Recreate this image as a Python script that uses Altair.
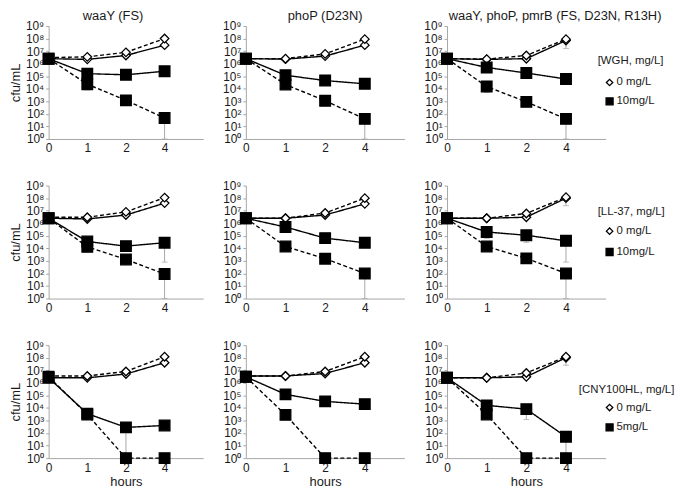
import altair as alt
import pandas as pd

# ---------------- data ----------------
HOURS = ["0", "1", "2", "4"]
X_DOMAIN = ["0", "1", "2", "4", "5"]   # last slot is an empty category

PANEL_TITLES = ["waaY (FS)", "phoP (D23N)", "waaY, phoP, pmrB (FS, D23N, R13H)"]
LEGEND_TITLES = ["[WGH, mg/L]", "[LL-37, mg/L]", "[CNY100HL, mg/L]"]
CONC_LABELS = [["0 mg/L", "10mg/L"], ["0 mg/L", "10mg/L"], ["0 mg/L", "5mg/L"]]

# Row 1 : WGH
wgh_waay_ctrl_solid = [2.5e6, 2.2e6, 4.5e6, 3e7]
wgh_waay_ctrl_dashed = [3e6, 3.5e6, 8e6, 1e8]
wgh_waay_trt_solid = [2.5e6, 1.6e5, 1.3e5, 2.5e5]
wgh_waay_trt_dashed = [2.5e6, 2.3e4, 1.2e3, 4.7e1]
wgh_waay_err = [("trt_dashed", "1", 2.3e4, 8e3), ("trt_dashed", "4", 4.7e1, 1)]

wgh_phop_ctrl_solid = [2.5e6, 2.3e6, 4e6, 3e7]
wgh_phop_ctrl_dashed = [2.5e6, 2.5e6, 6e6, 9e7]
wgh_phop_trt_solid = [2.5e6, 1.2e5, 4.5e4, 2.5e4]
wgh_phop_trt_dashed = [2.5e6, 2.2e4, 1.1e3, 4e1]
wgh_phop_err = [("trt_dashed", "1", 2.2e4, 1e4), ("trt_dashed", "4", 4e1, 1)]

wgh_tri_ctrl_solid = [2.5e6, 2.2e6, 2.5e6, 7e7]
wgh_tri_ctrl_dashed = [2.5e6, 2.3e6, 4.5e6, 9e7]
wgh_tri_trt_solid = [2.5e6, 5e5, 1.8e5, 6e4]
wgh_tri_trt_dashed = [2.5e6, 1.5e4, 9e2, 4e1]
wgh_tri_err = [("ctrl_solid", "4", 7e7, 1.6e7), ("trt_dashed", "1", 1.5e4, 5e3),
               ("trt_dashed", "4", 4e1, 1)]

# Row 2 : LL-37
ll_waay_ctrl_solid = [2.5e6, 2.2e6, 4.5e6, 4e7]
ll_waay_ctrl_dashed = [3e6, 3e6, 8e6, 1.1e8]
ll_waay_trt_solid = [2.5e6, 3.5e4, 1.5e4, 2.8e4]
ll_waay_trt_dashed = [2.5e6, 1.3e4, 1.3e3, 9e1]
ll_waay_err = [("trt_solid", "4", 2.8e4, 8e2), ("trt_dashed", "2", 1.3e3, 5e2),
               ("trt_dashed", "4", 9e1, 1)]

ll_phop_ctrl_solid = [2.5e6, 2.5e6, 4.5e6, 3.5e7]
ll_phop_ctrl_dashed = [2.5e6, 2.5e6, 6.5e6, 1e8]
ll_phop_trt_solid = [2.5e6, 5e5, 6.5e4, 2.8e4]
ll_phop_trt_dashed = [2.5e6, 1.4e4, 1.5e3, 1e2]
ll_phop_err = [("trt_dashed", "4", 1e2, 1)]

ll_tri_ctrl_solid = [2.5e6, 2.5e6, 3e6, 1e8]
ll_tri_ctrl_dashed = [2.5e6, 2.5e6, 6e6, 1.2e8]
ll_tri_trt_solid = [2.5e6, 2e5, 1.1e5, 4e4]
ll_tri_trt_dashed = [2.5e6, 1.4e4, 1.6e3, 1e2]
ll_tri_err = [("ctrl_solid", "4", 1e8, 2.5e7), ("trt_solid", "1", 2e5, 6e4),
              ("trt_solid", "2", 1.1e5, 3e4), ("trt_solid", "4", 4e4, 8e2),
              ("trt_dashed", "4", 1e2, 1)]

# Row 3 : CNY100HL
cny_waay_ctrl_solid = [2.5e6, 2.5e6, 5e6, 4e7]
cny_waay_ctrl_dashed = [3.5e6, 3.5e6, 8e6, 1.2e8]
cny_waay_trt_solid = [2.5e6, 3.5e3, 2.8e2, 4e2]
cny_waay_trt_dashed = [3e6, 3e3, 1, 1]
cny_waay_err = [("trt_solid", "2", 2.8e2, 1), ("trt_solid", "4", 4e2, 2e2)]

cny_phop_ctrl_solid = [3.5e6, 3.5e6, 5.5e6, 4e7]
cny_phop_ctrl_dashed = [3.5e6, 3.5e6, 8e6, 1.2e8]
cny_phop_trt_solid = [3e6, 1.2e5, 3.3e4, 2e4]
cny_phop_trt_dashed = [3e6, 2.8e3, 1, 1]
cny_phop_err = []

cny_tri_ctrl_solid = [2.5e6, 2.5e6, 3e6, 1e8]
cny_tri_ctrl_dashed = [2.5e6, 2.5e6, 6e6, 1.2e8]
cny_tri_trt_solid = [2.5e6, 1.6e4, 8e3, 5e1]
cny_tri_trt_dashed = [2.5e6, 3e3, 1, 1]
cny_tri_err = [("ctrl_solid", "4", 1e8, 2.5e7), ("trt_solid", "2", 8e3, 1.2e3),
               ("trt_solid", "4", 5e1, 1)]

PANELS = [
    [(wgh_waay_ctrl_solid, wgh_waay_ctrl_dashed, wgh_waay_trt_solid, wgh_waay_trt_dashed, wgh_waay_err),
     (wgh_phop_ctrl_solid, wgh_phop_ctrl_dashed, wgh_phop_trt_solid, wgh_phop_trt_dashed, wgh_phop_err),
     (wgh_tri_ctrl_solid, wgh_tri_ctrl_dashed, wgh_tri_trt_solid, wgh_tri_trt_dashed, wgh_tri_err)],
    [(ll_waay_ctrl_solid, ll_waay_ctrl_dashed, ll_waay_trt_solid, ll_waay_trt_dashed, ll_waay_err),
     (ll_phop_ctrl_solid, ll_phop_ctrl_dashed, ll_phop_trt_solid, ll_phop_trt_dashed, ll_phop_err),
     (ll_tri_ctrl_solid, ll_tri_ctrl_dashed, ll_tri_trt_solid, ll_tri_trt_dashed, ll_tri_err)],
    [(cny_waay_ctrl_solid, cny_waay_ctrl_dashed, cny_waay_trt_solid, cny_waay_trt_dashed, cny_waay_err),
     (cny_phop_ctrl_solid, cny_phop_ctrl_dashed, cny_phop_trt_solid, cny_phop_trt_dashed, cny_phop_err),
     (cny_tri_ctrl_solid, cny_tri_ctrl_dashed, cny_tri_trt_solid, cny_tri_trt_dashed, cny_tri_err)],
]

# ---------------- layout / style ----------------
WIDTHS = [156, 160, 160]
HEIGHT = 114
TITLE_DX = [-13, 0, 29]
# legend guide placement (pixels, relative to the third panel's plot area):
# title x, title y, item-1 y, item-2 y
LEGEND_POS = [(152, 35, 57, 76), (152, 27, 46, 67), (133, 45, 63, 83)]
SYM_X, LAB_X = 164, 171
GRAY = "#a6a6a6"
TXT = "#1a1a1a"
SUP = "['\u2070','\u00b9','\u00b2','\u00b3','\u2074','\u2075','\u2076','\u2077','\u2078','\u2079']"
KINDS = ["ctrl", "trt"]
SHAPES = ["diamond", "square"]
FILLS = ["white", "black"]
SIZES = [75, 115]


def legend_layers(r):
    tx, ty, y1, y2 = LEGEND_POS[r]
    c0, c1 = CONC_LABELS[r]
    out = [alt.Chart(pd.DataFrame({"t": [LEGEND_TITLES[r]]})).mark_text(
        align="left", baseline="middle", fontSize=11.5, color=TXT).encode(
        text="t:N", x=alt.value(tx), y=alt.value(ty))]
    for lab, yy, shp, fil, sz in [(c0, y1, "diamond", "white", 42), (c1, y2, "square", "black", 50)]:
        d = pd.DataFrame({"t": [lab]})
        out.append(alt.Chart(d).mark_point(filled=True, stroke="black", strokeWidth=1.3, opacity=1).encode(
            x=alt.value(SYM_X), y=alt.value(yy), shape=alt.value(shp), fill=alt.value(fil), size=alt.value(sz)))
        out.append(alt.Chart(d).mark_text(align="left", baseline="middle", fontSize=11.5, color=TXT).encode(
            text="t:N", x=alt.value(LAB_X), y=alt.value(yy)))
    return out


def panel(r, c):
    cs, cd, ts, td, errs = PANELS[r][c]
    rows = []
    for key, vals, kind, strain in [("ctrl_solid", cs, "ctrl", "solid"), ("ctrl_dashed", cd, "ctrl", "dashed"),
                                    ("trt_solid", ts, "trt", "solid"), ("trt_dashed", td, "trt", "dashed")]:
        for h, v in zip(HOURS, vals):
            rows.append({"hour": h, "value": v, "kind": kind, "strain": strain, "series": key})
    df = pd.DataFrame(rows)
    edf = pd.DataFrame([{"hour": h, "value": v, "lower": lo} for (_, h, v, lo) in errs],
                       columns=["hour", "value", "lower"])

    x_axis = alt.Axis(
        title="hours" if r == 2 else None, labelAngle=0, ticks=False, domainColor=GRAY,
        labelExpr="datum.value == '5' ? '' : datum.value", labelFontSize=12, labelColor=TXT,
        labelPadding=4, grid=False, titleFontSize=13, titleFontWeight="normal", titleColor=TXT,
        titlePadding=3)
    y_axis = alt.Axis(
        title="cfu/mL" if c == 0 else None, values=[10 ** k for k in range(10)],
        labelExpr="'10' + " + SUP + "[round(log(datum.value) / LN10)]",
        tickSize=3, tickColor=GRAY, domainColor=GRAY, labelFontSize=12, labelColor=TXT,
        labelPadding=2, grid=False, minExtent=25, maxExtent=25, titleFontSize=13,
        titleFontWeight="normal", titleColor=TXT, titlePadding=1)
    xs = alt.Scale(type="point", domain=X_DOMAIN, padding=0)
    ys = alt.Scale(type="log", domain=[1, 1e9], nice=False)
    X = alt.X("hour:N", scale=xs, axis=x_axis)

    base = alt.Chart(df)
    rules = alt.Chart(edf).mark_rule(color=GRAY, strokeWidth=1).encode(
        x=X, y=alt.Y("value:Q", scale=ys, axis=y_axis), y2="lower:Q")
    caps = alt.Chart(edf).mark_tick(color=GRAY, size=6, thickness=1).encode(
        x=X, y=alt.Y("lower:Q", scale=ys, axis=y_axis))
    lines = base.mark_line(color="black", strokeWidth=1.4).encode(
        x=X, y=alt.Y("value:Q", scale=ys, axis=y_axis), detail="series:N",
        strokeDash=alt.StrokeDash("strain:N", scale=alt.Scale(domain=["solid", "dashed"],
                                                               range=[[1, 0], [4, 2.5]]), legend=None))
    points = base.mark_point(filled=True, stroke="black", strokeWidth=1.3, opacity=1).encode(
        x=X, y=alt.Y("value:Q", scale=ys, axis=y_axis),
        shape=alt.Shape("kind:N", scale=alt.Scale(domain=KINDS, range=SHAPES), legend=None),
        fill=alt.Fill("kind:N", scale=alt.Scale(domain=KINDS, range=FILLS), legend=None),
        size=alt.Size("kind:N", scale=alt.Scale(domain=KINDS, range=SIZES), legend=None))

    layers = [lines, points]
    if len(edf):
        layers = [rules, caps, lines, points]
    if c == 2:
        layers += legend_layers(r)
    props = dict(width=WIDTHS[c], height=HEIGHT)
    if r == 0:
        props["title"] = alt.TitleParams(PANEL_TITLES[c], fontSize=13, fontWeight="normal",
                                         color=TXT, anchor="middle", dx=TITLE_DX[c], offset=-3)
    return alt.layer(*layers).properties(**props)


rows = [alt.hconcat(*[panel(r, c) for c in range(3)], spacing=18) for r in range(3)]

chart = alt.vconcat(*rows, spacing=26).properties(
    padding={"left": 2, "top": 0, "right": 0, "bottom": 0}).configure(
    font="Liberation Sans").configure_view(stroke=None)

chart.save("out.html", embed_options={"renderer": "svg", "actions": False})
